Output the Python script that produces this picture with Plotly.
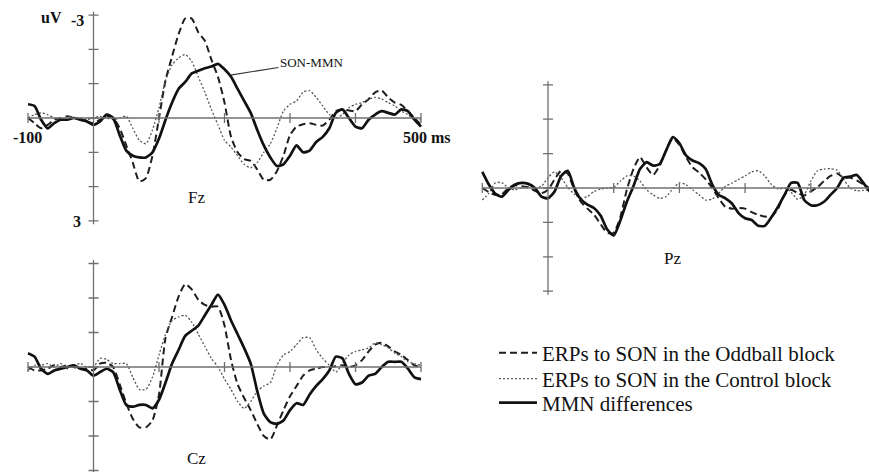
import plotly.graph_objects as go

W, H = 869, 472

# ---------------- data (µV, negative plotted upward) ----------------
time_ms = list(range(-100, 501, 10))

fz_oddball = [0.0, 0.15, 0.3, 0.2, 0.05, 0.0, -0.05, 0.0, 0.05, 0.1,
              0.15, 0.05, -0.05, 0.0, 0.3, 0.8, 1.3, 1.85, 1.75, 1.1,
              0.0, -1.1, -1.8, -2.45, -2.9, -2.9, -2.5, -2.25, -1.7, -1.2,
              -0.45, 0.55, 1.0, 1.2, 1.25, 1.5, 1.8, 1.8, 1.55, 1.1,
              0.5, 0.25, 0.18, 0.15, 0.2, 0.22, 0.05, -0.2, -0.25, -0.22,
              -0.2, -0.4, -0.55, -0.75, -0.8, -0.6, -0.45, -0.38, -0.2, 0.0,
              0.2]
fz_control = [0.0, -0.1, -0.15, -0.1, 0.0, 0.05, -0.05, 0.0, 0.0, 0.05,
              0.0, -0.05, 0.0, 0.05, 0.0, -0.05, 0.3, 0.65, 0.75, 0.35,
              -0.3, -1.1, -1.55, -1.75, -1.85, -1.65, -1.2, -0.75, -0.25, 0.2,
              0.65, 0.85, 1.1, 1.35, 1.45, 1.3, 1.0, 0.75, 0.3, -0.2,
              -0.4, -0.5, -0.75, -0.8, -0.6, -0.35, -0.1, 0.0, -0.1, -0.3,
              -0.4, -0.45, -0.55, -0.6, -0.55, -0.45, -0.35, -0.2, -0.1, 0.05,
              0.05]
fz_mmn = [-0.4, -0.35, 0.05, 0.3, 0.15, 0.05, 0.05, 0.0, 0.05, 0.1,
          0.2, 0.1, -0.1, 0.0, 0.5, 0.95, 1.1, 1.15, 1.15, 1.0,
          0.6, 0.05, -0.45, -0.85, -1.05, -1.3, -1.38, -1.45, -1.5, -1.58,
          -1.42, -1.2, -0.85, -0.5, -0.15, 0.35, 0.8, 1.15, 1.4, 1.35,
          1.1, 0.8, 1.0, 0.95, 0.7, 0.55, 0.3, -0.15, -0.25, 0.0,
          0.25, 0.3, 0.05, -0.1, -0.2, -0.15, -0.1, -0.25, -0.2, 0.05,
          0.25]

cz_oddball = [0.0, 0.1, 0.1, 0.05, -0.05, 0.0, -0.05, 0.0, 0.05, 0.05,
              0.1, -0.1, -0.12, 0.0, 0.5, 1.05, 1.5, 1.75, 1.75, 1.55,
              0.8, -0.85, -1.45, -2.05, -2.4, -2.25, -1.95, -1.8, -1.75, -1.75,
              -1.2, -0.2, 0.5, 0.9, 1.25, 1.65, 2.0, 2.1, 1.7, 1.25,
              0.85, 0.55, 0.25, 0.1, 0.05, 0.0, 0.0, -0.02, -0.05, 0.0,
              -0.05, -0.2, -0.45, -0.65, -0.7, -0.6, -0.45, -0.35, -0.2, -0.05,
              0.0]
cz_control = [0.1, -0.05, -0.05, -0.1, 0.0, -0.1, 0.05, -0.05, -0.1, 0.0,
              0.0, -0.25, -0.22, -0.1, -0.1, -0.1, 0.3, 0.65, 0.65, 0.3,
              -0.35, -0.95, -1.35, -1.45, -1.5, -1.3, -0.95, -0.6, -0.25, 0.0,
              0.35, 0.65, 1.0, 1.2, 1.0, 0.7, 0.55, 0.45, -0.05, -0.35,
              -0.45, -0.65, -0.85, -0.85, -0.5, -0.25, -0.05, 0.15, -0.1, -0.35,
              -0.45, -0.5, -0.55, -0.7, -0.65, -0.55, -0.4, -0.3, -0.15, -0.1,
              -0.05]
cz_mmn = [-0.4, -0.3, 0.05, 0.2, 0.1, 0.05, 0.0, -0.05, 0.05, 0.1,
          0.25, 0.15, 0.05, 0.15, 0.65, 1.1, 1.15, 1.1, 1.1, 1.2,
          0.95, 0.45, -0.1, -0.5, -0.9, -1.05, -1.2, -1.5, -1.8, -2.1,
          -1.8, -1.35, -0.95, -0.55, -0.1, 0.7, 1.35, 1.6, 1.65, 1.55,
          1.25, 1.05, 1.1, 0.8, 0.55, 0.35, 0.1, -0.3, -0.25, 0.2,
          0.5, 0.45, 0.25, 0.2, 0.0, -0.15, -0.15, -0.15, 0.05, 0.3,
          0.35]

pz_oddball = [0.0, 0.12, 0.2, 0.18, 0.0, -0.08, -0.05, -0.02, 0.08, 0.15,
              0.05, -0.25, -0.5, -0.42, 0.05, 0.4, 0.6, 0.78, 1.05, 1.3,
              1.3, 0.85, 0.05, -0.55, -0.9, -0.6, -0.38, -0.65, -1.1, -1.45,
              -1.25, -0.9, -0.6, -0.45, -0.25, 0.0, 0.3, 0.55, 0.6, 0.58,
              0.6, 0.7, 0.78, 0.83, 0.83, 0.6, 0.2, 0.05, 0.15, 0.22,
              0.1, -0.02, -0.2, -0.35, -0.42, -0.3, -0.3, -0.22, -0.1, 0.0,
              0.05]
pz_control = [0.35, 0.15, -0.15, -0.15, 0.0, 0.05, 0.0, -0.05, 0.0, -0.05,
              -0.3, -0.47, -0.3, -0.02, 0.18, 0.3, 0.25, 0.1, 0.03, 0.0,
              -0.02, -0.2, -0.35, -0.35, -0.2, 0.05, 0.2, 0.3, 0.25, 0.02,
              -0.15, -0.1, 0.05, 0.2, 0.35, 0.32, 0.15, -0.05, -0.14, -0.25,
              -0.35, -0.47, -0.5, -0.35, -0.1, 0.03, 0.0, 0.12, 0.33, 0.2,
              -0.2, -0.5, -0.55, -0.56, -0.52, -0.25, 0.0, 0.08, 0.07, 0.05,
              0.05]
pz_mmn = [-0.47, -0.1, 0.17, 0.25, 0.05, -0.1, -0.15, -0.12, 0.0, 0.25,
          0.3, 0.1, -0.35, -0.5, 0.0, 0.33, 0.48, 0.58, 0.8, 1.2,
          1.38, 0.95, 0.4, -0.05, -0.55, -0.75, -0.65, -0.7, -1.1, -1.48,
          -1.3, -0.95, -0.8, -0.72, -0.55, -0.1, 0.2, 0.3, 0.45, 0.73,
          0.88, 0.93, 1.1, 1.1, 0.85, 0.55, 0.2, -0.15, -0.15, 0.35,
          0.5, 0.5, 0.4, 0.2, 0.0, -0.3, -0.33, -0.38, -0.15, 0.1,
          0.25]

series_names = ["ERPs to SON in the Oddball block",
                "ERPs to SON in the Control block",
                "MMN differences"]
y_ticks = [-3, -2, -1, 0, 1, 2, 3]
x_ticks = [-100, 100, 200, 300, 400, 500]
electrodes = ["Fz", "Cz", "Pz"]

# ---------------- layout geometry ----------------
SERIF = "Liberation Serif, Times New Roman, serif"
panels = {
    "Fz": dict(ax="", x0=93.5, ppm=0.655, y0=118, ppu=34.3, xr=(-105, 505), yr=(-3.4, 3.4), xend=500,
               data=(fz_oddball, fz_control, fz_mmn)),
    "Cz": dict(ax="2", x0=93.5, ppm=0.655, y0=367, ppu=34.5, xr=(-105, 505), yr=(-3.4, 3.04), xend=500,
               data=(cz_oddball, cz_control, cz_mmn)),
    "Pz": dict(ax="3", x0=548, ppm=0.657, y0=188, ppu=34.4, xr=(-105, (W - 548) / 0.657), yr=(-3.3, 3.3), xend=500,
               data=(pz_oddball, pz_control, pz_mmn)),
}

styles = [
    dict(color="#1e1e1e", width=2.0, dash="7px,4px"),
    dict(color="#555555", width=1.3, dash="2px,2px"),
    dict(color="#111111", width=2.7, dash="solid"),
]
legend_ids = ["legend", "legend2", "legend3"]
legend_rows_px = [353, 379, 403]

fig = go.Figure()
layout = dict(width=W, height=H, margin=dict(l=0, r=0, t=0, b=0),
              paper_bgcolor="white", plot_bgcolor="rgba(0,0,0,0)",
              font=dict(family=SERIF, color="#111"))
shapes = []
annotations = []

AXIS_COL = "#6f6f6f"

for pname, p in panels.items():
    ax = p["ax"]
    xa = "xaxis" + ax
    ya = "yaxis" + ax
    xl = p["x0"] + p["xr"][0] * p["ppm"]
    xr_ = p["x0"] + p["xr"][1] * p["ppm"]
    top = p["y0"] + p["yr"][0] * p["ppu"]
    bot = p["y0"] + p["yr"][1] * p["ppu"]
    layout[xa] = dict(domain=[max(0, xl / W), min(1, xr_ / W)], range=list(p["xr"]),
                      visible=False, anchor="y" + ax)
    layout[ya] = dict(domain=[max(0, 1 - bot / H), min(1, 1 - top / H)],
                      range=[p["yr"][1], p["yr"][0]], visible=False, anchor="x" + ax)
    xref, yref = "x" + ax, "y" + ax
    shapes.append(dict(type="line", xref=xref, yref=yref, x0=-100, x1=min(p["xend"], p["xr"][1]),
                       y0=0, y1=0, line=dict(color=AXIS_COL, width=1.3)))
    shapes.append(dict(type="line", xref=xref, yref=yref, x0=0, x1=0,
                       y0=min(y_ticks) - 0.1, y1=min(max(y_ticks) + 0.1, p["yr"][1]),
                       line=dict(color=AXIS_COL, width=1.3)))
    for v in y_ticks:
        shapes.append(dict(type="line", xref=xref, yref=yref, xsizemode="pixel", xanchor=0,
                           x0=-5, x1=5, y0=v, y1=v, line=dict(color=AXIS_COL, width=1.3)))
    for t in x_ticks:
        if t <= p["xr"][1]:
            shapes.append(dict(type="line", xref=xref, yref=yref, ysizemode="pixel", yanchor=0,
                               y0=-5, y1=5, x0=t, x1=t, line=dict(color=AXIS_COL, width=1.3)))
    for i, (vals, st) in enumerate(zip(p["data"], styles)):
        fig.add_trace(go.Scatter(
            x=time_ms, y=vals, mode="lines", name=series_names[i],
            line=dict(color=st["color"], width=st["width"], dash=st["dash"], shape="spline", smoothing=0.6),
            xaxis=xref, yaxis=yref, legendgroup=series_names[i], legend=legend_ids[i],
            showlegend=(pname == "Fz"), hoverinfo="skip"))


def px(xp, yp):
    return xp / W, 1 - yp / H


def label(txt, xp, yp, size, bold=False):
    x, y = px(xp, yp)
    annotations.append(dict(text=("<b>%s</b>" % txt) if bold else txt, x=x, y=y,
                            xref="paper", yref="paper", xanchor="center", yanchor="middle",
                            showarrow=False, font=dict(size=size, family=SERIF, color="#111")))


for name, (xp, yp) in zip(electrodes, [(196, 197), (196, 458), (672, 258)]):
    label(name, xp, yp, 17)

for txt, (xp, yp) in [("uV", (51, 17)), ("-3", (77, 20)), ("3", (77, 221.5)),
                      ("-100", (27.5, 137.5)), ("500 ms", (426.5, 137.5))]:
    label(txt, xp, yp, 16, bold=True)

annotations.append(dict(text="SON-MMN", x=209, y=-1.25, xref="x", yref="y",
                        ax=81, ay=-13, axref="pixel", ayref="pixel",
                        xanchor="center", yanchor="middle",
                        showarrow=True, arrowhead=0, arrowwidth=1.1, arrowcolor="#333",
                        font=dict(size=13, family=SERIF, color="#111")))

layout["shapes"] = shapes
layout["annotations"] = annotations
layout["showlegend"] = True
for lid, row in zip(legend_ids, legend_rows_px):
    layout[lid] = dict(x=494 / W, y=1 - (row - 20.5) / H, xanchor="left", yanchor="top",
                       bgcolor="rgba(0,0,0,0)", borderwidth=0,
                       font=dict(size=21, family=SERIF, color="#111"),
                       tracegroupgap=0, itemwidth=38)
fig.update_layout(**layout)
fig.write_html("out.html", config={"displayModeBar": False},
               post_script="document.body.style.margin='0';document.body.style.padding='0';")
